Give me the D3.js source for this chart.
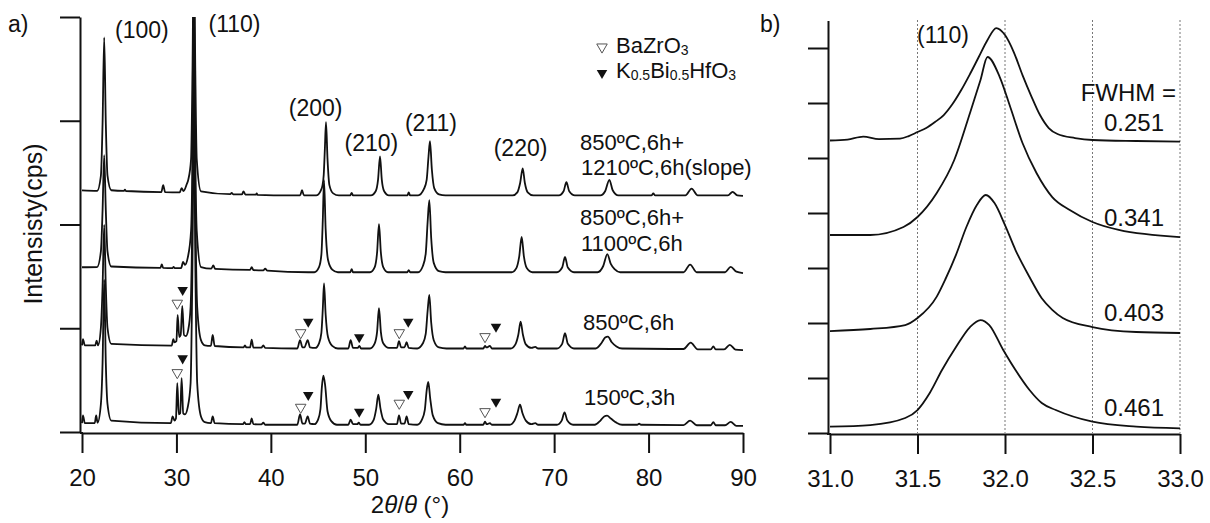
<!DOCTYPE html>
<html><head><meta charset="utf-8">
<script src="https://cdn.jsdelivr.net/npm/d3@7"></script>
<style>
html,body{margin:0;padding:0;background:#fff;}
svg{display:block;font-family:"Liberation Sans",Arial,sans-serif;}
</style></head>
<body><svg id="c" width="1210" height="523"></svg>
<script>
// ---------- DATA (panel a) : [2theta, intensity relative to series offset] ----------
const xTicksA = [20,30,40,50,60,70,80,90];
const yTicksA = [0,1000,2000,3000,4000];
const seriesNames = ["150ºC,3h","850ºC,6h","850ºC,6h+1100ºC,6h","850ºC,6h+1210ºC,6h(slope)"];
const offsets = [70, 805, 1540, 2280];

const xrd150 = [
[20,16],[20.1,90],[20.3,16],
[21.35,16],[21.5,90],[21.65,20],[22.0,200],[22.18,600],[22.35,1398],[22.52,600],[22.7,200],[23.1,40],
[29.4,15],[29.6,80],[29.8,40],[29.95,60],[30.09,402],[30.25,100],[30.4,110],[30.55,450],[30.72,110],[30.9,100],[31.2,170],[31.5,400],[31.68,1400],[31.85,3000],[32.02,1400],[32.2,400],[32.6,80],[33.0,25],
[33.65,15],[33.84,80],[34.05,15],
[37.05,5],[37.2,25],[37.35,5],
[37.8,5],[37.97,60],[38.15,5],
[39.0,3],[39.2,20],[39.4,0],
[42.8,0],[43.09,100],[43.35,10],[43.6,10],[43.9,80],[44.15,10],
[44.6,5],[45.0,50],[45.25,150],[45.4,360],[45.56,472],[45.75,380],[46.0,130],[46.4,35],[47.0,0],
[48.2,0],[48.45,50],[48.7,5],[49.15,5],[49.3,20],[49.5,0],
[50.4,0],[50.9,50],[51.15,150],[51.38,289],[51.6,160],[51.9,50],[52.5,5],[53.35,5],[53.57,90],[53.8,10],[54.15,10],[54.38,80],[54.6,5],
[55.5,0],[56.0,50],[56.3,140],[56.5,330],[56.67,412],[56.88,250],[57.15,90],[57.7,15],[58.5,0],
[60.4,0],[60.56,15],[60.7,0],
[62.5,0],[62.68,30],[62.85,5],[63.2,15],[63.4,0],
[65.3,0],[65.8,40],[66.1,110],[66.38,193],[66.65,110],[67.0,40],[67.6,5],[68.0,15],[68.3,0],
[70.3,0],[70.8,40],[71.1,119],[71.4,40],[72.0,0],
[74.3,0],[74.9,40],[75.3,80],[75.6,87],[76.0,60],[76.6,20],[77.2,0],
[78.8,0],[79.0,10],[79.2,0],
[83.7,-3],[84.4,40],[85.1,-5],
[86.6,-5],[86.86,25],[87.1,-5],
[88.1,-5],[88.7,28],[89.3,-10],[90,-10]
];
const xrd850 = [
[20,30],[20.1,90],[20.3,30],
[21.4,30],[21.55,75],[21.7,30],[22.0,200],[22.18,600],[22.35,1190],[22.52,600],[22.7,200],[23.1,45],
[29.5,28],[29.67,90],[29.8,60],[30.0,70],[30.13,323],[30.3,110],[30.45,130],[30.62,410],[30.8,130],[31.0,120],[31.25,180],[31.5,400],[31.7,1400],[31.85,3000],[32.0,1400],[32.2,400],[32.6,80],[33.0,30],
[33.65,25],[33.84,130],[34.05,24],
[37.1,10],[37.26,30],[37.4,10],
[37.8,10],[37.97,85],[38.15,9],
[39.0,8],[39.2,30],[39.4,5],
[42.8,0],[43.09,80],[43.35,10],[43.55,10],[43.9,80],[44.15,10],
[44.7,5],[45.1,50],[45.35,150],[45.5,380],[45.63,628],[45.8,330],[46.05,110],[46.5,25],[47.1,0],
[48.2,0],[48.45,80],[48.7,5],[49.2,5],[49.37,25],[49.55,0],
[50.5,0],[51.0,50],[51.25,160],[51.45,388],[51.65,160],[51.9,50],[52.5,5],[53.35,5],[53.57,70],[53.8,10],[54.15,10],[54.38,60],[54.6,5],
[55.5,0],[56.1,50],[56.4,140],[56.6,360],[56.78,516],[56.98,250],[57.25,80],[57.8,10],[58.6,0],
[60.4,0],[60.56,20],[60.7,0],
[62.5,0],[62.68,25],[62.85,10],[63.2,25],[63.4,0],
[65.4,0],[65.9,40],[66.2,130],[66.45,258],[66.7,130],[67.0,40],[67.6,5],[68.0,15],[68.3,0],
[70.3,0],[70.85,45],[71.15,147],[71.45,45],[72.1,0],
[74.4,0],[75.0,50],[75.4,105],[75.7,114],[76.1,60],[76.6,20],[77.2,0],
[83.7,-5],[84.46,56],[85.2,-8],
[86.6,-8],[86.86,20],[87.1,-8],
[88.0,-8],[88.6,35],[89.2,-10],[90,-15]
];
const xrd1100 = [
[20,48],[21.6,50],[22.0,200],[22.18,600],[22.35,1128],[22.52,600],[22.7,200],[23.1,55],
[28.3,42],[28.45,75],[28.6,42],
[29.6,40],[29.7,52],[29.8,40],
[30.5,40],[30.7,100],[30.9,70],[31.2,140],[31.55,400],[31.72,1300],[31.85,2800],[31.98,1300],[32.15,400],[32.6,50],
[33.7,35],[33.9,65],[34.1,33],
[37.8,22],[37.97,50],[38.15,20],
[39.2,18],[39.4,35],[39.6,16],
[44,0],
[44.6,0],[45.1,50],[45.35,170],[45.5,500],[45.63,887],[45.8,420],[46.05,120],[46.5,25],[47.1,0],
[48.4,0],[48.56,30],[48.7,0],
[50.5,0],[51.0,50],[51.25,190],[51.45,463],[51.65,190],[51.9,50],[52.4,0],
[54.45,0],[54.6,20],[54.75,0],
[55.6,0],[56.1,60],[56.4,180],[56.6,480],[56.78,694],[56.98,330],[57.25,90],[57.8,10],[58.5,0],
[65.5,0],[66.0,40],[66.3,150],[66.56,340],[66.8,150],[67.1,40],[67.7,0],
[70.3,0],[70.85,45],[71.15,147],[71.45,45],[72.1,0],
[74.6,0],[75.2,60],[75.63,174],[76.0,80],[76.4,30],[77.0,0],
[83.7,0],[84.4,74],[85.1,0],
[88.1,0],[88.7,51],[89.3,5],[90,-8]
];
const xrd1210 = [
[20.0,48],[21.6,44],[22.0,190],[22.18,700],[22.35,1523],[22.52,700],[22.7,190],[23.1,50],
[24.45,44],[24.55,56],[24.65,43],
[28.4,33],[28.6,100],[28.8,32],
[30.35,30],[30.55,70],[30.75,42],[31.1,110],[31.25,150],[31.55,350],[31.7,1200],[31.85,2500],[32.0,1200],[32.15,350],[32.6,40],
[35.7,12],[35.85,25],[36.0,11],
[36.95,10],[37.1,40],[37.3,9],
[38.4,7],[38.5,20],[38.6,6],
[42.0,0],
[43.1,0],[43.3,50],[43.5,0],
[44.8,0],[45.3,50],[45.45,90],[45.6,200],[45.72,450],[45.84,707],[46.0,350],[46.2,100],[46.6,20],[47.2,0],
[48.4,0],[48.56,25],[48.7,0],
[50.6,0],[51.1,40],[51.35,150],[51.56,376],[51.75,150],[52.0,40],[52.5,0],
[54.45,0],[54.6,30],[54.75,0],
[55.6,0],[56.2,60],[56.5,150],[56.7,380],[56.85,523],[57.05,250],[57.3,70],[57.8,10],[58.5,0],
[65.6,0],[66.1,30],[66.4,120],[66.67,260],[66.9,120],[67.2,30],[67.8,0],
[70.5,0],[71.0,40],[71.3,128],[71.6,40],[72.2,0],
[74.9,0],[75.4,40],[75.85,151],[76.2,50],[76.8,0],
[80.3,0],[80.5,20],[80.7,0],
[83.9,0],[84.56,65],[85.2,0],
[88.4,0],[88.9,35],[89.4,0],[90,-5]
];
const xrdSeries = [xrd150, xrd850, xrd1100, xrd1210];

// phase markers: [2theta, absolute intensity]
const bazro3Marks = [[30.09,1241],[43.16,957],[53.6,957],[62.68,919],[30.09,572],[43.16,238],[53.6,277],[62.68,196]];
const kbhMarks = [[30.66,1369],[43.96,1063],[49.36,913],[54.55,1063],[63.84,1015],[30.66,710],[43.96,357],[49.36,196],[54.55,366],[63.84,292]];

// peak (hkl) labels: [text, 2theta, absolute intensity]
const hklLabels = [["(100)",23.5,3800],["(110)",33.4,3860],["(200)",41.9,3045],["(210)",47.8,2710],["(211)",54.2,2900],["(220)",63.6,2660]];

// ---------- DATA (panel b) ----------
const xTicksB = [31.0,31.5,32.0,32.5,33.0];
const yTicksB = [0,1000,2000,3000,4000,5000,6000,7000];
const gridB = [31.5,32.0,32.5,33.0];
const fwhm = ["0.461","0.403","0.341","0.251"];
const p110_150 = [[31.00,115],[31.23,145],[31.43,273],[31.50,418],[31.57,727],[31.64,1145],[31.72,1563],[31.80,1927],[31.86,2054],[31.91,1963],[31.99,1509],[32.06,1145],[32.14,782],[32.21,545],[32.29,418],[32.50,205],[32.75,115],[33.00,85]];
const p110_850 = [[31.00,1854],[31.23,1891],[31.43,1963],[31.50,2091],[31.61,2480],[31.66,2800],[31.72,3240],[31.78,3750],[31.84,4150],[31.89,4327],[31.94,4180],[32.00,3780],[32.06,3327],[32.14,2836],[32.21,2450],[32.27,2240],[32.33,2091],[32.50,1927],[32.75,1836],[33.00,1818]];
const p110_1100 = [[31.00,3600],[31.23,3600],[31.42,3745],[31.50,3927],[31.61,4363],[31.71,4963],[31.80,5818],[31.86,6418],[31.90,6836],[31.97,6472],[32.03,5927],[32.10,5272],[32.18,4727],[32.27,4290],[32.37,4054],[32.50,3836],[32.65,3691],[33.00,3563]];
const p110_1210 = [[31.00,5318],[31.10,5336],[31.19,5390],[31.28,5345],[31.40,5354],[31.45,5399],[31.50,5472],[31.55,5545],[31.60,5654],[31.65,5781],[31.70,5981],[31.75,6236],[31.80,6527],[31.85,6836],[31.90,7145],[31.95,7363],[32.00,7236],[32.05,6927],[32.10,6508],[32.15,6127],[32.20,5781],[32.25,5545],[32.30,5436],[32.40,5363],[32.50,5327],[32.75,5309],[33.00,5299]];
const p110Series = [p110_150, p110_850, p110_1100, p110_1210];

// ---------- DRAW ----------
const svg = d3.select("#c");
const FONT = "'Liberation Sans', Arial, sans-serif";

// Panel a scales
const xA = d3.scaleLinear().domain([20,90]).range([82,743]);
const yA = d3.scaleLinear().domain([0,4000]).range([432,17]);

svg.append("defs").append("clipPath").attr("id","clipA")
  .append("rect").attr("x",80).attr("y",17).attr("width",670).attr("height",418);

const lineA = d3.line().x(d=>xA(d[0])).y(d=>yA(d[1])).curve(d3.curveMonotoneX);
const gA = svg.append("g").attr("clip-path","url(#clipA)");
xrdSeries.forEach((s,i)=>{
  gA.append("path").datum(s.map(d=>[d[0], d[1]+offsets[i]]))
    .attr("d",lineA).attr("fill","none").attr("stroke","#111").attr("stroke-width",1.8)
    .attr("stroke-linejoin","round");
});

// axes a
const axA_y = svg.append("g").attr("transform","translate(80,0)")
  .call(d3.axisLeft(yA).tickValues(yTicksA).tickSize(20).tickSizeOuter(0).tickFormat(""));
const axA_x = svg.append("g").attr("transform","translate(0,433)")
  .call(d3.axisBottom(xA).tickValues(xTicksA).tickSize(20).tickSizeOuter(0).tickPadding(16).tickFormat(d3.format("d")));
svg.append("line").attr("x1",80).attr("x2",83).attr("y1",433).attr("y2",433).attr("stroke","#111").attr("stroke-width",2);

// Panel b scales
const xB = d3.scaleLinear().domain([31,33]).range([830,1180]);
const yB = d3.scaleLinear().domain([0,7500]).range([433,20.5]);

// grid b
svg.append("g").selectAll("line").data(gridB).join("line")
  .attr("x1",d=>xB(d)).attr("x2",d=>xB(d)).attr("y1",20).attr("y2",433)
  .attr("stroke","#777").attr("stroke-width",1).attr("stroke-dasharray","2,2");

const lineB = d3.line().x(d=>xB(d[0])).y(d=>yB(d[1])).curve(d3.curveMonotoneX);
p110Series.forEach(s=>{
  svg.append("path").datum(s).attr("d",lineB).attr("fill","none")
    .attr("stroke","#111").attr("stroke-width",1.8).attr("stroke-linejoin","round");
});

const axB_y = svg.append("g").attr("transform","translate(828,0)")
  .call(d3.axisLeft(yB).tickValues(yTicksB).tickSize(20).tickSizeOuter(0).tickFormat(""));
const axB_x = svg.append("g").attr("transform","translate(0,434)")
  .call(d3.axisBottom(xB).tickValues(xTicksB).tickSize(20).tickSizeOuter(0).tickPadding(16).tickFormat(d3.format(".1f")));
svg.append("line").attr("x1",827).attr("x2",831).attr("y1",434).attr("y2",434).attr("stroke","#111").attr("stroke-width",2);

[axA_y,axA_x,axB_y,axB_x].forEach(g=>{
  g.selectAll("path.domain").attr("stroke","#111").attr("stroke-width",2);
  g.selectAll(".tick line").attr("stroke","#111").attr("stroke-width",2);
  g.selectAll(".tick text").attr("fill","#111").style("font-family",FONT).style("font-size","24px");
});

// triangles
const tri = d3.symbol().type(d3.symbolTriangle).size(48);
svg.append("g").selectAll("path").data(bazro3Marks).join("path")
  .attr("d",tri).attr("transform",d=>`translate(${xA(d[0])},${yA(d[1])}) rotate(180)`)
  .attr("fill","#fff").attr("stroke","#555").attr("stroke-width",1);
svg.append("g").selectAll("path").data(kbhMarks).join("path")
  .attr("d",tri).attr("transform",d=>`translate(${xA(d[0])},${yA(d[1])}) rotate(180)`)
  .attr("fill","#111");

// legend
svg.append("path").attr("d",tri).attr("transform","translate(602,47) rotate(180)")
  .attr("fill","#fff").attr("stroke","#555").attr("stroke-width",1);
svg.append("path").attr("d",tri).attr("transform","translate(602,73) rotate(180)").attr("fill","#111");
function txt(x,y,size,anchor){
  return svg.append("text").attr("x",x).attr("y",y).attr("fill","#111")
    .style("font-family",FONT).style("font-size",size+"px").attr("text-anchor",anchor||"start");
}
let t1 = txt(616,53,22);
t1.append("tspan").text("BaZrO");
t1.append("tspan").text("3").style("font-size","14px").attr("dy",2);
let t2 = txt(616,78,22);
t2.append("tspan").text("K");
t2.append("tspan").text("0.5").style("font-size","14px").attr("dy",2);
t2.append("tspan").text("Bi").attr("dy",-2);
t2.append("tspan").text("0.5").style("font-size","14px").attr("dy",2);
t2.append("tspan").text("HfO").attr("dy",-2);
t2.append("tspan").text("3").style("font-size","14px").attr("dy",2);

// hkl labels
hklLabels.forEach(d=>{ txt(xA(d[1]), yA(d[2]), 23, "start").text(d[0]); });

// sample labels (panel a)
txt(580,150,22).text("850ºC,6h+");
txt(581,175,22).text("1210ºC,6h(slope)");
txt(580,225,22).text("850ºC,6h+");
txt(581,251,22).text("1100ºC,6h");
txt(583,330,22).text("850ºC,6h");
txt(584,405,22).text("150ºC,3h");

// panel labels
txt(8,32,23).text("a)");
txt(760,32,23).text("b)");

// axis titles
const xt = txt(410,513,24,"middle");
xt.append("tspan").text("2");
xt.append("tspan").text("θ").style("font-style","italic");
xt.append("tspan").text("/");
xt.append("tspan").text("θ").style("font-style","italic");
xt.append("tspan").text(" (°)");
svg.append("text").attr("transform","translate(42,224) rotate(-90)").attr("text-anchor","middle")
  .attr("fill","#111").style("font-family",FONT).style("font-size","25px").text("Intensisty(cps)");

// panel b labels
txt(917,43,23).text("(110)");
txt(1176,101,24,"end").text("FWHM =");
const fwhmY = [416,321,226,131];
fwhm.forEach((f,i)=>{ txt(1164,fwhmY[i],24,"end").text(f); });
</script>
</body></html>
